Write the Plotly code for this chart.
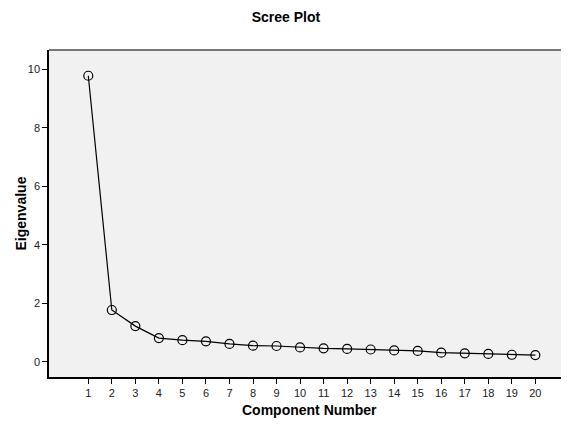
import plotly.graph_objects as go

components = list(range(1, 21))
eigenvalues = [9.78, 1.77, 1.22, 0.81, 0.74, 0.70, 0.61, 0.55, 0.54, 0.49,
               0.46, 0.44, 0.42, 0.39, 0.37, 0.31, 0.29, 0.27, 0.24, 0.23]
x_ticks = components
y_ticks = [0, 2, 4, 6, 8, 10]

fig = go.Figure()
fig.add_trace(go.Scatter(
    x=components, y=eigenvalues, mode="lines+markers",
    line=dict(color="black", width=1.2),
    marker=dict(symbol="circle-open", size=9, color="black", line=dict(width=1.2)),
    showlegend=False, cliponaxis=False,
))

font_family = "Liberation Sans, Arial, sans-serif"
# page body has an 8px margin; the figure is sized to fill the rest of the window
W, H = 561, 418
L, R, T, B = 41, 0, 42, 49
fig.update_layout(
    width=W, height=H,
    margin=dict(l=L, r=R, t=T, b=B, autoexpand=False),
    paper_bgcolor="white", plot_bgcolor="#f0f1f0",
    title=dict(text="<b>Scree Plot</b>", x=(286 - 8) / W, xanchor="center", y=1 - 9 / H, yanchor="middle",
               font=dict(family=font_family, size=14, color="black")),
    font=dict(family=font_family),
)
fig.update_xaxes(
    range=[-0.67, 21.43], tickmode="array", tickvals=x_ticks, automargin=False,
    ticks="outside", ticklen=5, tickcolor="black", tickwidth=1,
    showgrid=False, zeroline=False, showline=True, linecolor="black", linewidth=1.5,
    tickfont=dict(family=font_family, size=11, color="#222"),
)
fig.update_yaxes(
    range=[-0.52, 10.66], tickmode="array", tickvals=y_ticks, automargin=False,
    ticks="outside", ticklen=5, tickcolor="black", tickwidth=1,
    showgrid=False, zeroline=False, showline=True, linecolor="black", linewidth=1.5,
    tickfont=dict(family=font_family, size=11, color="#222"),
)
fig.add_shape(type="line", xref="paper", yref="paper", x0=0, x1=1, y0=1, y1=1,
              line=dict(color="#777777", width=2))
fig.add_annotation(text="<b>Component Number</b>", xref="paper", yref="paper",
                   x=0.5, y=-(402 - (H - B)) / (H - T - B), xanchor="center", yanchor="middle",
                   showarrow=False, font=dict(family=font_family, size=14, color="black"))
fig.add_annotation(text="<b>Eigenvalue</b>", xref="paper", yref="paper",
                   x=-(L - 12) / (W - L - R), y=0.5, xanchor="center", yanchor="middle", textangle=-90,
                   showarrow=False, font=dict(family=font_family, size=14, color="black"))

fig.write_html("out.html")
